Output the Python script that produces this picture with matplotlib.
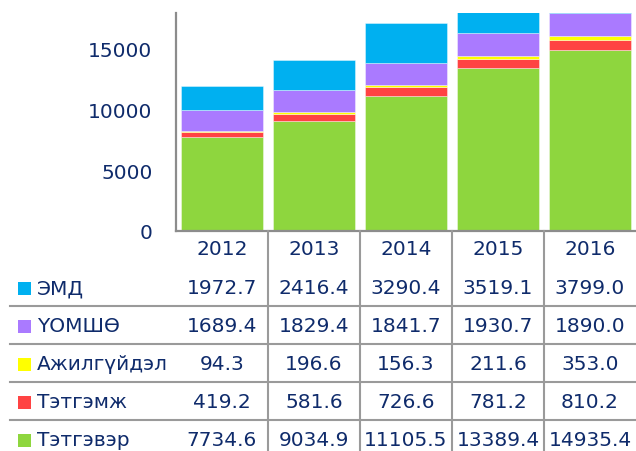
import matplotlib
matplotlib.use("Agg")
import matplotlib.pyplot as plt
import matplotlib.transforms as mtransforms
from matplotlib.lines import Line2D
from matplotlib.patches import Rectangle
import numpy as np

years = ["2012", "2013", "2014", "2015", "2016"]
# top-to-bottom order as in the table
series_names = ["ЭМД", "ҮОМШӨ", "Ажилгүйдэл", "Тэтгэмж", "Тэтгэвэр"]
emd = [1972.7, 2416.4, 3290.4, 3519.1, 3799.0]
uomsho = [1689.4, 1829.4, 1841.7, 1930.7, 1890.0]
ajilguidel = [94.3, 196.6, 156.3, 211.6, 353.0]
tetgemj = [419.2, 581.6, 726.6, 781.2, 810.2]
tetgever = [7734.6, 9034.9, 11105.5, 13389.4, 14935.4]
series_values = [emd, uomsho, ajilguidel, tetgemj, tetgever]
colors = ["#00B0F0", "#AA7AFF", "#FFFF00", "#FF4343", "#8ED63E"]
yticks = [0, 5000, 10000, 15000]

W, H = 636, 452
TXT = "#0F2B6B"
GRID = "#9A9A9A"
FS = 14.5

fig = plt.figure(figsize=(W / 100, H / 100), dpi=100)
ax_left, ax_right, ax_top, ax_bottom = 176, 636, 13.5, 232
ax = fig.add_axes([ax_left / W, 1 - ax_bottom / H, (ax_right - ax_left) / W, (ax_bottom - ax_top) / H])

x = np.arange(len(years))
bottom = np.zeros(len(years))
# stack from bottom (Тэтгэвэр) to top (ЭМД)
for name, vals, col in reversed(list(zip(series_names, series_values, colors))):
    v = np.array(vals)
    ax.bar(x, v, width=0.9, bottom=bottom, color=col, edgecolor=(1, 1, 1, 0.45), linewidth=0.6, zorder=2)
    bottom += v

ax.set_xlim(-0.5, len(years) - 0.5)
ax.set_ylim(0, 18000)
ax.set_yticks(yticks)
ax.set_yticklabels([str(t) for t in yticks], fontsize=FS, color=TXT)
ax.tick_params(axis="y", length=0, pad=17)
ax.set_xticks([])
for s in ["top", "right"]:
    ax.spines[s].set_visible(False)
for s in ["left", "bottom"]:
    ax.spines[s].set_color("#8C8C8C")
    ax.spines[s].set_linewidth(1.6)

def fy(px):
    return 1 - px / H

blend = mtransforms.blended_transform_factory(ax.transData, fig.transFigure)

# year header row
for i, yr in enumerate(years):
    ax.text(i, fy(250), yr, transform=blend, ha="center", va="center", fontsize=FS, color=TXT, clip_on=False)

row_centers = [289, 327, 365, 403, 441]
for r, (name, vals, col) in enumerate(zip(series_names, series_values, colors)):
    yc = row_centers[r]
    for i, v in enumerate(vals):
        ax.text(i, fy(yc), f"{v:.1f}", transform=blend, ha="center", va="center", fontsize=FS, color=TXT, clip_on=False)
    fig.add_artist(Rectangle((18 / W, fy(yc + 7)), 13 / W, 13 / H, transform=fig.transFigure, facecolor=col, edgecolor="none"))
    fig.text(37 / W, fy(yc), name, ha="left", va="center", fontsize=FS, color=TXT)

# table grid lines
for ypx in [307, 345, 383, 421]:
    fig.add_artist(Line2D([10 / W, 1], [fy(ypx), fy(ypx)], transform=fig.transFigure, color=GRID, linewidth=1.5))
for i in range(1, len(years)):
    fig.add_artist(Line2D([i - 0.5, i - 0.5], [fy(232), 0], transform=blend, color=GRID, linewidth=1.5))

fig.savefig("out.png", dpi=100)
